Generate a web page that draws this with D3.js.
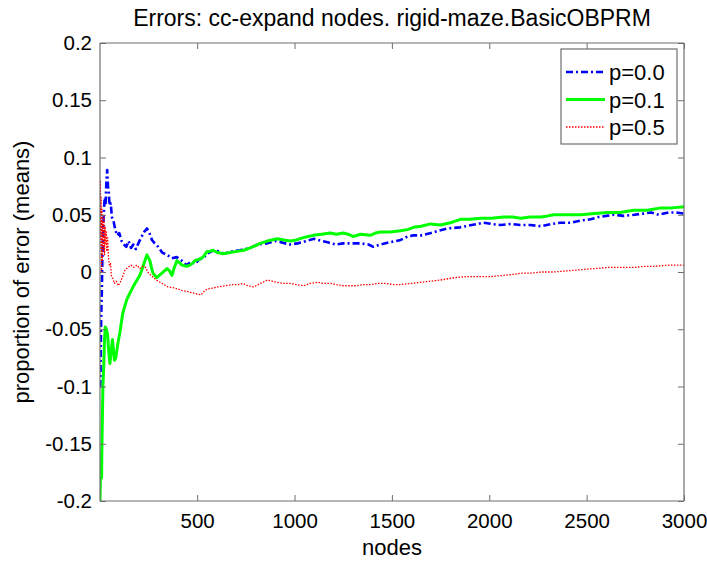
<!doctype html>
<html lang="en">
<head>
<meta charset="UTF-8">
<title>Errors: cc-expand nodes</title>
<script src="https://cdnjs.cloudflare.com/ajax/libs/d3/7.8.5/d3.min.js"></script>
<style>
    body { margin: 0; background: #fff; }
    text { font-family: "Liberation Sans", Arial, Helvetica, sans-serif; fill: #000; }
</style>
</head>
<body>
<svg id="chart" width="707" height="563"></svg>
<script>
// data: [nodes, proportion of error]
var p00 = [
    [1,-0.10],[3,-0.10],[5,-0.07],[7,-0.04],[10,-0.02],[13,0.01],[16,0.03],[20,0.05],[25,0.065],[30,0.06],
    [34,0.08],[38,0.089],[42,0.075],[46,0.07],[50,0.058],[56,0.06],[62,0.048],[70,0.045],[78,0.038],[88,0.032],
    [100,0.034],[112,0.027],[124,0.024],[136,0.022],[148,0.027],[160,0.021],[172,0.024],[185,0.02],[198,0.025],[212,0.03],
    [228,0.035],[242,0.038],[255,0.034],[268,0.028],[282,0.025],[300,0.022],[320,0.017],[345,0.015],[370,0.012],[395,0.013],
    [420,0.01],[445,0.006],[470,0.009],[490,0.007],[510,0.011],[530,0.012],[550,0.016],[585,0.019],[610,0.018],[635,0.016],
    [680,0.018],[720,0.019],[770,0.021],[810,0.024],[860,0.025],[900,0.027],[930,0.026],[975,0.024],[1015,0.025],[1060,0.027],
    [1100,0.029],[1140,0.027],[1170,0.026],[1210,0.024],[1250,0.025],[1300,0.025],[1340,0.025],[1380,0.024],[1405,0.022],[1440,0.024],
    [1490,0.026],[1545,0.028],[1580,0.031],[1610,0.032],[1650,0.032],[1700,0.034],[1740,0.036],[1785,0.038],[1850,0.039],[1910,0.041],
    [1970,0.043],[2010,0.042],[2060,0.041],[2110,0.042],[2160,0.041],[2210,0.041],[2265,0.040],[2320,0.042],[2365,0.043],[2420,0.043],
    [2470,0.045],[2520,0.046],[2560,0.048],[2600,0.049],[2640,0.050],[2690,0.049],[2745,0.050],[2790,0.051],[2830,0.052],[2870,0.050],
    [2920,0.052],[2960,0.052],[3000,0.051]
];
var p01 = [
    [1,-0.20],[3,-0.18],[5,-0.16],[7,-0.175],[9,-0.18],[11,-0.15],[13,-0.13],[16,-0.10],[20,-0.083],[24,-0.06],
    [28,-0.048],[34,-0.05],[40,-0.055],[46,-0.07],[52,-0.08],[58,-0.07],[65,-0.059],[70,-0.068],[75,-0.077],[82,-0.075],
    [88,-0.068],[95,-0.06],[103,-0.053],[110,-0.045],[118,-0.036],[128,-0.03],[139,-0.024],[150,-0.02],[165,-0.015],[180,-0.01],
    [195,-0.006],[205,-0.003],[216,0.002],[228,0.008],[242,0.015],[250,0.012],[257,0.01],[265,0.004],[273,-0.001],[283,-0.003],
    [293,-0.005],[305,-0.003],[319,-0.001],[332,0.001],[345,0.003],[358,0.001],[370,-0.003],[383,0.004],[396,0.010],[410,0.008],
    [422,0.006],[445,0.005],[463,0.006],[478,0.008],[489,0.010],[510,0.011],[530,0.013],[551,0.018],[565,0.018],[581,0.019],
    [605,0.017],[633,0.016],[670,0.017],[705,0.018],[740,0.019],[772,0.021],[800,0.023],[823,0.025],[860,0.027],[911,0.029],
    [945,0.028],[978,0.027],[1010,0.028],[1045,0.030],[1070,0.031],[1096,0.032],[1140,0.033],[1183,0.034],[1215,0.033],[1250,0.034],
    [1275,0.033],[1302,0.031],[1340,0.033],[1389,0.032],[1415,0.034],[1441,0.035],[1490,0.035],[1544,0.036],[1580,0.037],[1611,0.039],
    [1650,0.040],[1698,0.042],[1750,0.041],[1800,0.043],[1853,0.046],[1900,0.046],[1955,0.047],[2010,0.047],[2074,0.048],[2120,0.048],
    [2161,0.047],[2210,0.048],[2264,0.048],[2300,0.049],[2331,0.050],[2400,0.050],[2470,0.050],[2540,0.051],[2609,0.052],[2670,0.052],
    [2743,0.054],[2810,0.054],[2882,0.056],[2940,0.056],[3000,0.057]
];
var p05 = [
    [1,0.02],[3,0.08],[5,0.03],[7,0.065],[9,0.0],[11,0.055],[13,0.01],[15,0.045],[18,0.02],[21,0.05],
    [24,0.015],[27,0.04],[30,0.025],[33,0.035],[36,0.018],[40,0.03],[45,0.012],[50,0.005],[55,0.008],[60,-0.004],
    [68,-0.006],[75,-0.01],[85,-0.008],[95,-0.012],[105,-0.009],[115,-0.005],[130,0.002],[145,0.004],[160,0.006],[175,0.004],
    [190,0.006],[205,0.003],[220,0.005],[235,0.004],[250,-0.001],[270,-0.004],[290,-0.007],[320,-0.01],[350,-0.013],[385,-0.014],
    [420,-0.016],[450,-0.017],[470,-0.018],[495,-0.019],[520,-0.02],[535,-0.017],[550,-0.015],[580,-0.014],[610,-0.013],[645,-0.012],
    [680,-0.011],[710,-0.011],[735,-0.010],[760,-0.012],[790,-0.013],[825,-0.010],[860,-0.007],[885,-0.008],[910,-0.009],[945,-0.01],
    [980,-0.010],[1010,-0.011],[1045,-0.012],[1080,-0.01],[1120,-0.009],[1150,-0.01],[1185,-0.01],[1215,-0.011],[1250,-0.012],[1285,-0.012],
    [1320,-0.012],[1355,-0.011],[1390,-0.011],[1430,-0.010],[1470,-0.010],[1510,-0.011],[1544,-0.011],[1600,-0.01],[1647,-0.009],[1700,-0.008],
    [1750,-0.007],[1820,-0.005],[1887,-0.004],[1950,-0.004],[2006,-0.004],[2070,-0.003],[2124,-0.002],[2170,-0.001],[2212,-0.001],[2270,0.0],
    [2330,0.0],[2400,0.001],[2470,0.002],[2540,0.003],[2610,0.004],[2680,0.004],[2743,0.004],[2800,0.005],[2846,0.005],[2920,0.006],
    [3000,0.006]
];
var seriesNames = ["p=0.0", "p=0.1", "p=0.5"];
var seriesColors = ["#0000ff", "#00ff00", "#ff0000"];
var xTicks = [500, 1000, 1500, 2000, 2500, 3000];
var yTicks = [-0.2, -0.15, -0.1, -0.05, 0, 0.05, 0.1, 0.15, 0.2];

var svg = d3.select('#chart');
var mLeft = 100, mRight = 684, mTop = 43, mBottom = 501;
var fontSize = 22, tickFont = 20.5;

var x = d3.scaleLinear().domain([1, 3000]).range([mLeft, mRight]);
var y = d3.scaleLinear().domain([-0.2, 0.2]).range([mBottom, mTop]);

svg.append('clipPath').attr('id', 'clip')
    .append('rect').attr('x', mLeft).attr('y', mTop)
    .attr('width', mRight - mLeft).attr('height', mBottom - mTop);

var line = d3.line().x(function (d) { return x(d[0]); }).y(function (d) { return y(d[1]); });

var plot = svg.append('g').attr('clip-path', 'url(#clip)');
var styles = [
    {width: 2.6, dash: '7,3,2,3'},
    {width: 3, dash: null},
    {width: 1.3, dash: '1.5,1.5'}
];
[p00, p01, p05].forEach(function (s, i) {
    plot.append('path').datum(s)
        .attr('d', line)
        .attr('fill', 'none')
        .attr('stroke', seriesColors[i])
        .attr('stroke-width', styles[i].width)
        .attr('stroke-dasharray', styles[i].dash)
        .attr('stroke-linejoin', 'round');
});

// axes (box with inward ticks on all sides)
var tickLen = 6;
var fmt = function (d) { return String(+d.toFixed(2)); };

var xb = svg.append('g').attr('transform', 'translate(0,' + mBottom + ')')
    .call(d3.axisBottom(x).tickValues(xTicks).tickSize(-tickLen).tickPadding(12).tickFormat(d3.format('d')));
var xt = svg.append('g').attr('transform', 'translate(0,' + mTop + ')')
    .call(d3.axisTop(x).tickValues(xTicks).tickSize(-tickLen).tickFormat(''));
var yl = svg.append('g').attr('transform', 'translate(' + mLeft + ',0)')
    .call(d3.axisLeft(y).tickValues(yTicks).tickSize(-tickLen).tickPadding(8).tickFormat(fmt));
var yr = svg.append('g').attr('transform', 'translate(' + mRight + ',0)')
    .call(d3.axisRight(y).tickValues(yTicks).tickSize(-tickLen).tickFormat(''));

[xb, xt, yl, yr].forEach(function (g) {
    g.selectAll('.domain').attr('stroke', '#6e6e6e').attr('stroke-width', 1.2);
    g.selectAll('.tick line').attr('stroke', '#6e6e6e');
    g.selectAll('.tick text').attr('font-size', tickFont).attr('font-family', '"Liberation Sans", Arial, sans-serif').attr('fill', '#000');
});
xb.selectAll('.domain').attr('d', 'M' + mLeft + ',0H' + mRight);
xt.selectAll('.domain').attr('d', 'M' + mLeft + ',0H' + mRight);
yl.selectAll('.domain').attr('d', 'M0,' + mTop + 'V' + mBottom);
yr.selectAll('.domain').attr('d', 'M0,' + mTop + 'V' + mBottom);

// title and axis labels
svg.append('text').attr('x', (mLeft + mRight) / 2).attr('y', 26)
    .attr('text-anchor', 'middle').attr('font-size', 23)
    .text('Errors: cc-expand nodes. rigid-maze.BasicOBPRM');
svg.append('text').attr('x', (mLeft + mRight) / 2).attr('y', 555)
    .attr('text-anchor', 'middle').attr('font-size', fontSize)
    .text('nodes');
svg.append('text').attr('transform', 'translate(29,' + (mTop + mBottom) / 2 + ') rotate(-90)')
    .attr('text-anchor', 'middle').attr('font-size', fontSize)
    .text('proportion of error (means)');

// legend
var lg = svg.append('g');
lg.append('rect').attr('x', 561).attr('y', 49).attr('width', 116).attr('height', 95)
    .attr('fill', '#fff').attr('stroke', '#6e6e6e').attr('stroke-width', 1.2);
seriesNames.forEach(function (name, i) {
    var ly = 72 + i * 27.5;
    lg.append('line').attr('x1', 566).attr('x2', 605).attr('y1', ly).attr('y2', ly)
        .attr('stroke', seriesColors[i])
        .attr('stroke-width', styles[i].width)
        .attr('stroke-dasharray', styles[i].dash);
    lg.append('text').attr('x', 609).attr('y', ly + 8).attr('font-size', fontSize).text(name);
});
</script>
</body>
</html>
